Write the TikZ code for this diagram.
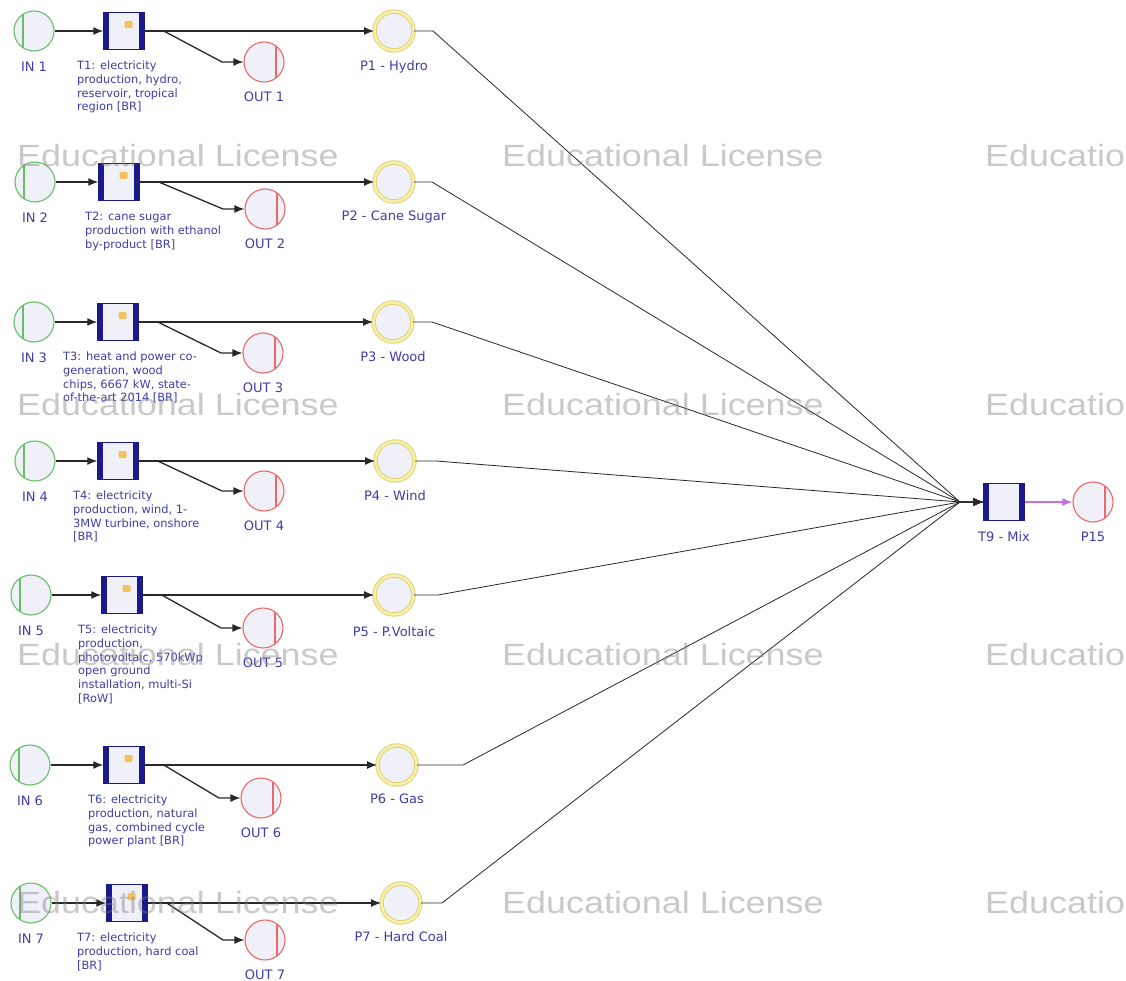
\documentclass[tikz,border=0pt]{standalone}
\usepackage{fontspec}
\setmainfont{DejaVu Sans}
\newfontfamily\wmfont{Liberation Sans}
\usetikzlibrary{arrows.meta}

\definecolor{lblblue}{RGB}{62,62,168}
\definecolor{ingreen}{RGB}{104,190,104}
\definecolor{outred}{RGB}{236,104,104}
\definecolor{pring}{RGB}{222,208,110}
\definecolor{pringin}{RGB}{246,240,172}
\definecolor{navy}{RGB}{26,26,140}
\definecolor{placefill}{RGB}{240,240,248}
\definecolor{mixpurple}{RGB}{192,112,226}
\definecolor{iconorange}{RGB}{242,194,96}
\definecolor{arcgray}{RGB}{40,40,40}

\tikzset{
  inplace/.style={circle, draw=ingreen, line width=1.1pt, fill=placefill,
    minimum size=40pt, inner sep=0pt,
    path picture={\draw[ingreen, line width=1.1pt]
      ([xshift=-11pt]path picture bounding box.north) --
      ([xshift=-11pt]path picture bounding box.south);}},
  outplace/.style={circle, draw=outred, line width=1.1pt, fill=placefill,
    minimum size=40pt, inner sep=0pt,
    path picture={\draw[outred, line width=1.1pt]
      ([xshift=12pt]path picture bounding box.north) --
      ([xshift=12pt]path picture bounding box.south);}},
  midplace/.style={circle, draw=pring, double=pringin, double distance=2.6pt,
    line width=0.9pt, fill=placefill, minimum size=39pt, inner sep=0pt},
  mixbox/.style={rectangle, draw=navy, line width=1.5pt, fill=placefill,
    minimum width=40pt, minimum height=37pt, inner sep=0pt,
    path picture={
      \fill[navy] (path picture bounding box.south west) rectangle
        ([xshift=5pt]path picture bounding box.north west);
      \fill[navy] (path picture bounding box.south east) rectangle
        ([xshift=-5pt]path picture bounding box.north east);}},
  lockicon/.style={fill=iconorange, rounded corners=1.2pt},
  lbl/.style={text=lblblue, font=\fontsize{13}{15}\selectfont, inner sep=0pt},
  tlbl/.style={text=lblblue, font=\fontsize{11.4}{13.7}\selectfont,
    inner sep=0pt, align=left, anchor=north west},
  arc/.style={draw=arcgray, line width=1.3pt, -{Latex[length=10pt,width=8pt]}},
  feed/.style={draw=arcgray, line width=0.8pt, -{Latex[length=10pt,width=8pt]}},
  mixarc/.style={draw=mixpurple, line width=1.4pt, -{Latex[length=10pt,width=8pt]}},
  watermark/.style={text=gray, opacity=0.42, inner sep=0pt, anchor=west,
    font=\wmfont\fontsize{30.7}{32}\selectfont},
}

\begin{document}
\begin{tikzpicture}[x=1pt, y=-1pt]
  \path[use as bounding box, fill=white] (0,0) rectangle (1126,981);

  % mixing transition and final product
  \node[mixbox] (t9) at (1004,502) {};
  \node[outplace] (p15) at (1093,502) {};
  \node[lbl] (t9-l) at (1004,537) {T9 - Mix};
  \node[lbl] (p15-l) at (1093,537) {P15};
  \coordinate (conv) at (960,502);
  \draw[mixarc] (t9.east) -- (p15.west);

  % one row per electricity source:
  % n / row y / IN x / T x / OUT x / OUT y / P x / bend x / label x / label
  \foreach \n/\y/\ix/\tx/\ox/\oy/\px/\bx/\lx/\txt in {
    1/31/34/124/264/62/394/433/77/{T1: electricity\\production, hydro,\\reservoir, tropical\\region [BR]},
    2/182/35/119/265/209/394/432/85/{T2: cane sugar\\production with ethanol\\by-product [BR]},
    3/322/34/118/263/353/393/432/63/{T3: heat and power co-\\generation, wood\\chips, 6667 kW, state-\\of-the-art 2014 [BR]},
    4/461/35/118/264/491/395/436/73/{T4: electricity\\production, wind, 1-\\3MW turbine, onshore\\{}[BR]},
    5/595/31/122/263/628/394/438/78/{T5: electricity\\production,\\photovoltaic, 570kWp\\open ground\\installation, multi-Si\\{}[RoW]},
    6/765/30/124/261/798/397/463/88/{T6: electricity\\production, natural\\gas, combined cycle\\power plant [BR]},
    7/903/31/127/265/940/401/442/77/{T7: electricity\\production, hard coal\\{}[BR]}}
  {
    \node[inplace] (in\n) at (\ix,\y) {};
    \node[mixbox] (t\n) at (\tx,\y) {};
    \fill[lockicon] ([xshift=0.5pt,yshift=3pt]t\n.center) rectangle ++(8pt,7pt);
    \node[outplace] (out\n) at (\ox,\oy) {};
    \node[midplace] (p\n) at (\px,\y) {};

    \node[lbl] (in\n-l) at (\ix,{\y+36}) {IN \n};
    \node[lbl] (out\n-l) at (\ox,{\oy+35}) {OUT \n};
    \node[tlbl] (t\n-l) at (\lx,{\y+30}) {\txt};

    \draw[arc] (in\n.east) -- (t\n.west);
    \draw[arc] (t\n.east) -- (p\n.west);
    \draw[arc] (t\n.east) -- ++(19,0) -- ({\ox-42},\oy) -- (out\n.west);
    \draw[feed] (p\n.east) -- (\bx,\y) -- (conv) -- (t9.west);
  }

  % place labels for the intermediate products
  \node[lbl] (p1-l) at (394,67) {P1 - Hydro};
  \node[lbl] (p2-l) at (394,217) {P2 - Cane Sugar};
  \node[lbl] (p3-l) at (393,357) {P3 - Wood};
  \node[lbl] (p4-l) at (395,496) {P4 - Wind};
  \node[lbl] (p5-l) at (394,632) {P5 - P.Voltaic};
  \node[lbl] (p6-l) at (397,799) {P6 - Gas};
  \node[lbl] (p7-l) at (401,937) {P7 - Hard Coal};

  % licence watermark
  \foreach \r/\wy in {1/156, 2/405, 3/655, 4/903} {
    \node[watermark] (wm\r a) at (17,\wy) {\scalebox{1.17}[1]{Educational License}};
    \node[watermark] (wm\r b) at (502,\wy) {\scalebox{1.17}[1]{Educational License}};
    \node[watermark] (wm\r c) at (985,\wy) {\scalebox{1.17}[1]{Educational License}};
  }
\end{tikzpicture}
\end{document}
